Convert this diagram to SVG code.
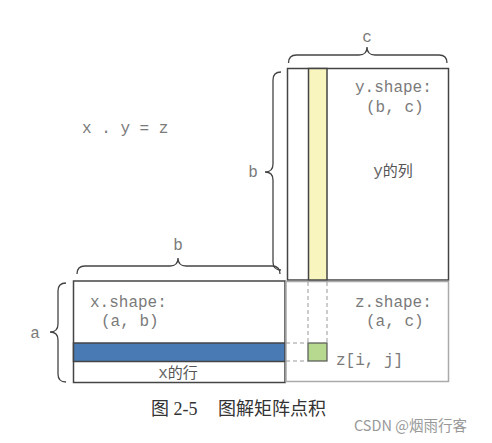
<svg xmlns="http://www.w3.org/2000/svg" width="492" height="443" viewBox="0 0 492 443">
<style>
.mono{font-family:"Liberation Mono","DejaVu Sans Mono",monospace;font-size:16px;fill:#7a7a7a}
.cjk{font-family:"Noto Sans CJK SC",sans-serif;font-size:15px;fill:#555}
.brace{fill:none;stroke:#444;stroke-width:1.3}
.mat{stroke:#444;stroke-width:1.5}
.dash{stroke:#999;stroke-width:1;stroke-dasharray:4,3;fill:none}
</style>
<rect width="492" height="443" fill="#fff"/>
<text class="mono" x="82" y="133">x . y = z</text>
<g id="y-matrix">
<rect class="mat" x="287.5" y="68.5" width="161" height="211.5" fill="#fff"/>
<rect class="mat" x="308.5" y="68.5" width="18.5" height="211.5" fill="#f8f5be"/>
<text class="mono" x="355" y="92">y.shape:</text>
<text class="mono" x="366" y="112">(b, c)</text>
<text class="cjk" x="393" y="176" text-anchor="middle"><tspan font-family="Liberation Mono,monospace" font-size="16" fill="#666">y</tspan>的列</text>
</g>
<g id="x-matrix">
<rect class="mat" x="73.5" y="281" width="211.5" height="101.5" fill="#fff"/>
<rect class="mat" x="73.5" y="343" width="211.5" height="18.5" fill="#4a7ab4"/>
<text class="mono" x="90" y="307">x.shape:</text>
<text class="mono" x="101" y="326">(a, b)</text>
<text class="cjk" x="178" y="378" text-anchor="middle"><tspan font-family="Liberation Mono,monospace" font-size="16" fill="#666">x</tspan>的行</text>
</g>
<g id="z-matrix">
<rect x="286" y="281.5" width="162.5" height="100" fill="#fff" stroke="#aaa" stroke-width="1.5"/>
<rect x="308" y="343" width="19" height="18" fill="#b6d98f" stroke="#555" stroke-width="1.2"/>
<text class="mono" x="355" y="307">z.shape:</text>
<text class="mono" x="366" y="326">(a, c)</text>
<text class="mono" x="336" y="365">z[i, j]</text>
</g>
<g id="connectors">
<line class="dash" x1="308" y1="282" x2="308" y2="343"/>
<line class="dash" x1="327" y1="282" x2="327" y2="343"/>
<line class="dash" x1="286" y1="343" x2="308" y2="343"/>
<line class="dash" x1="286" y1="361" x2="308" y2="361"/>
</g>
<g id="brace-c">
<path class="brace" d="M288.5,63 Q288.5,55 296.5,55 L359,55 Q367,55 367,47 Q367,55 375,55 L439,55 Q447,55 447,63"/>
<text class="mono" x="367" y="42" text-anchor="middle">c</text>
</g>
<g id="brace-b-y">
<path class="brace" d="M281,72 Q273,72 273,80 L273,164 Q273,172 265,172 Q273,172 273,180 L273,262 Q273,270 281,270"/>
<text class="mono" x="253" y="177" text-anchor="middle">b</text>
</g>
<g id="brace-b-x">
<path class="brace" d="M77,274 Q77,266 85,266 L170,266 Q178,266 178,258 Q178,266 186,266 L272,266 Q280,266 280,274"/>
<text class="mono" x="178" y="250" text-anchor="middle">b</text>
</g>
<g id="brace-a">
<path class="brace" d="M66,283 Q58,283 58,291 L58,324 Q58,332 50,332 Q58,332 58,340 L58,374 Q58,382 66,382"/>
<text class="mono" x="35" y="338" text-anchor="middle">a</text>
</g>
<text x="151" y="415" font-family="Liberation Serif,Noto Sans CJK SC,serif" font-size="18" fill="#333">图 2-5<tspan x="218">图解矩阵点积</tspan></text>
<text x="354" y="431" font-family="Noto Sans CJK SC,sans-serif" font-size="14.5" fill="#999">CSDN @烟雨行客</text>
</svg>
